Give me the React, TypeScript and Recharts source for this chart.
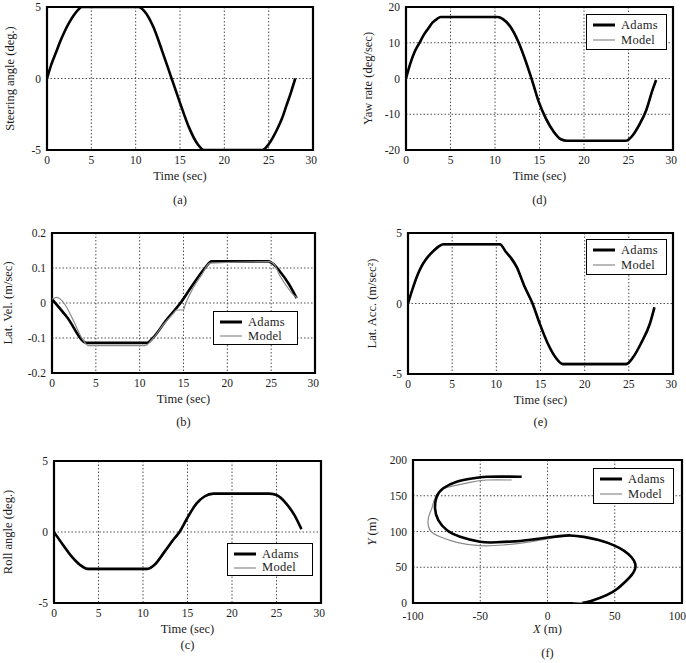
import React from 'react'
import { LineChart, Line, XAxis, YAxis, CartesianGrid, ReferenceArea, Label } from 'recharts'

const timeTicks = [0, 5, 10, 15, 20, 25, 30]

// (a) steering input
const steerTime = [0, 0.5, 1, 1.5, 2, 2.5, 3, 3.5, 3.9, 10.3, 11, 12, 13, 14, 15, 16, 17, 17.7, 24.3, 25, 25.5, 26, 26.5, 27, 27.5, 28]
const steerAngle = [0, 1.0, 1.8, 2.6, 3.3, 3.9, 4.4, 4.8, 5, 5, 4.7, 3.6, 1.9, 0.1, -1.7, -3.4, -4.6, -5, -5, -4.6, -4.1, -3.5, -2.8, -1.9, -1.0, 0]

// (d) yaw rate
const yawTime = [0, 0.5, 1, 1.5, 2, 2.5, 3, 3.5, 3.9, 10.3, 10.9, 11.7, 12.6, 13.4, 14.15, 14.9, 15.7, 16.6, 17.4, 18.1, 24.7, 25.5, 26.2, 27, 27.7, 28.1]
const yawAdams = [0, 4.3, 7.6, 9.9, 12.2, 14.0, 15.7, 16.7, 17.2, 17.2, 16.6, 14.6, 10.4, 5.2, -0.4, -6.4, -11.1, -14.9, -17.0, -17.4, -17.4, -15.8, -13.0, -8.8, -3.2, -0.4]
const yawModel = [0, 4.6, 7.9, 10.2, 12.4, 14.2, 15.8, 16.8, 17.3, 17.3, 16.4, 14.2, 10.0, 4.8, -0.8, -6.8, -11.5, -15.2, -17.2, -17.6, -17.6, -16.1, -13.4, -9.2, -3.6, -0.8]

// (b) lateral velocity
const velAdamsTime = [0, 1.7, 3.96, 10.8, 11.5, 13, 14.8, 16, 17.45, 18.2, 24.7, 25.2, 26, 27, 27.9]
const velAdams = [0.011, -0.04, -0.114, -0.114, -0.1, -0.05, 0.005, 0.05, 0.1, 0.119, 0.119, 0.112, 0.09, 0.055, 0.014]
const velModelTime = [0, 0.55, 1.5, 2.4, 3.4, 4.15, 10.6, 11.4, 12.7, 13.8, 14.2, 15.0, 15.2, 16.1, 17.1, 18.0, 24.8, 25.4, 26, 27, 27.5, 28]
const velModel = [0.011, 0.016, -0.005, -0.048, -0.1, -0.122, -0.122, -0.105, -0.062, -0.031, -0.02, -0.02, -0.005, 0.043, 0.081, 0.114, 0.118, 0.108, 0.078, 0.04, 0.024, 0.014]

// (e) lateral acceleration
const accTime = [0, 0.5, 1, 1.5, 2, 3, 3.5, 4, 10.4, 11.1, 11.7, 12.3, 13.2, 14.1, 14.9, 15.8, 16.8, 17.5, 24.7, 25.5, 26.4, 27.4, 27.9]
const accAdams = [0, 1.0, 1.9, 2.6, 3.1, 3.8, 4.05, 4.2, 4.2, 3.65, 3.2, 2.6, 1.2, 0, -1.4, -2.8, -3.9, -4.3, -4.3, -3.8, -2.8, -1.4, -0.28]
const accModel = [0, 1.05, 1.95, 2.65, 3.15, 3.85, 4.1, 4.15, 4.15, 3.6, 3.1, 2.5, 1.1, -0.1, -1.5, -2.9, -3.95, -4.25, -4.25, -3.75, -2.75, -1.35, -0.25]

// (c) roll angle
const rollTime = [0, 1, 1.95, 2.9, 3.8, 10.4, 11.3, 12.4, 13.4, 14.1, 14.9, 16, 16.9, 17.9, 24.2, 25, 26.1, 27, 27.8]
const rollAdams = [0, -0.9, -1.7, -2.3, -2.6, -2.6, -2.3, -1.4, -0.55, 0, 0.9, 2.0, 2.5, 2.7, 2.7, 2.6, 2.0, 1.2, 0.2]
const rollModel = [0, -0.95, -1.75, -2.35, -2.65, -2.65, -2.35, -1.5, -0.6, -0.05, 0.85, 1.95, 2.5, 2.65, 2.65, 2.55, 1.95, 1.15, 0.2]

// (f) vehicle path
const pathAdamsX = [26, 32, 44, 52, 58, 62.5, 65, 65.2, 62.5, 57, 49, 38, 27, 17, 9, 0, -10, -20.4, -37.8, -50.2, -65, -74.9, -81.2, -83.6, -82.4, -77.5, -67.5, -55.2, -45.2, -19.2]
const pathAdamsY = [0, 2.5, 11, 20, 30, 39, 47, 55, 64, 73, 81, 88, 92.5, 94.5, 93.5, 91.5, 89, 86.7, 84.9, 85.7, 92.7, 102, 116, 132, 148.7, 160.4, 169.7, 174.4, 176.6, 176.6]
const pathModelX = [19, 28, 42, 51, 57.5, 62, 64.6, 64.8, 62.2, 56.7, 48.7, 37.7, 26.7, 16.5, 8, 1.9, -15.5, -32.9, -50.2, -67.5, -79.9, -87.4, -88.6, -86.1, -83.6, -78.7, -72.5, -57.6, -45.2, -26.6]
const pathModelY = [0, 1.5, 10.5, 19.5, 29.5, 38.5, 46.5, 55, 64, 73, 81, 88, 92.3, 94, 92.5, 90.5, 84.9, 81.1, 80.2, 84.9, 92.7, 102, 118.5, 132, 146.4, 158, 162.7, 168.8, 172, 172]

type Pt = { x: number; y: number }
const zip = (xs: number[], ys: number[]): Pt[] => xs.map((x, i) => ({ x, y: ys[i] }))

const FONT = '"Liberation Serif", "Times New Roman", serif'
const INK = '#1c1c1c'

type Series = { key: string; data: Pt[]; color: string; width: number }

const adams = (data: Pt[]): Series => ({ key: 'Adams', data, color: '#000', width: 2.6 })
const model = (data: Pt[]): Series => ({ key: 'Model', data, color: '#8a8a8a', width: 1.2 })

interface PanelProps {
  left: number
  top: number
  plotX: number
  plotY: number
  plotW: number
  plotH: number
  xDomain: [number, number]
  xTicks: number[]
  yDomain: [number, number]
  yTicks: number[]
  xTitle: React.ReactNode
  yTitle: React.ReactNode
  yTitleX: number
  series: Series[]
  curve: 'monotone' | 'linear' | 'natural'
  legend?: { x: number; y: number; w: number; h: number }
  caption: string
  captionY: number
  xTickGap?: number
}

function LegendBox({ x, y, w, h }: { x: number; y: number; w: number; h: number }) {
  const rows = [
    { label: 'Adams', color: '#000', width: 3 },
    { label: 'Model', color: '#8a8a8a', width: 1.2 },
  ]
  return (
    <div
      style={{
        position: 'absolute',
        left: x,
        top: y,
        width: w,
        height: h,
        border: '1px solid #000',
        background: '#fff',
        boxSizing: 'border-box',
        fontFamily: FONT,
        fontSize: 12.5,
        color: INK,
      }}
    >
      {rows.map((r, i) => (
        <div key={r.label} style={{ position: 'absolute', left: 5, top: 3 + i * (h / 2 - 3), height: 14, display: 'flex', alignItems: 'center' }}>
          <svg width={24} height={14}>
            <line x1={1} x2={23} y1={7} y2={7} stroke={r.color} strokeWidth={r.width} />
          </svg>
          <span style={{ marginLeft: 5, letterSpacing: 0.3 }}>{r.label}</span>
        </div>
      ))}
    </div>
  )
}

function Panel(p: PanelProps) {
  const marginTop = p.plotY - p.top
  const axisW = p.plotX - p.left
  const axisH = 36
  const width = axisW + p.plotW + 4
  const height = marginTop + p.plotH + axisH
  const cx = axisW + p.plotW / 2
  const cy = marginTop + p.plotH / 2
  const ytx = p.yTitleX - p.left
  const tickStyle = { fill: INK, fontSize: 11.5, fontFamily: FONT }
  return (
    <>
      <div style={{ position: 'absolute', left: p.left, top: p.top }}>
        <LineChart width={width} height={height} margin={{ top: marginTop, right: 4, left: 0, bottom: 0 }}>
          <CartesianGrid stroke="#3a3a3a" strokeDasharray="1.5 2" strokeWidth={0.9} />
          <XAxis
            type="number"
            dataKey="x"
            domain={p.xDomain}
            ticks={p.xTicks}
            allowDataOverflow
            height={axisH}
            axisLine={false}
            tickLine={false}
            tickSize={0}
            tickMargin={p.xTickGap ?? 6}
            tick={tickStyle}
          >
            <Label
              content={() => (
                <text x={cx} y={marginTop + p.plotH + 30} textAnchor="middle" fontFamily={FONT} fontSize={12.5} fill={INK}>
                  {p.xTitle}
                </text>
              )}
            />
          </XAxis>
          <YAxis
            type="number"
            dataKey="y"
            domain={p.yDomain}
            ticks={p.yTicks}
            allowDataOverflow
            width={axisW}
            axisLine={false}
            tickLine={false}
            tickSize={0}
            tickMargin={6}
            tick={tickStyle}
          >
            <Label
              content={() => (
                <text
                  x={ytx}
                  y={cy}
                  transform={`rotate(-90 ${ytx} ${cy})`}
                  textAnchor="middle"
                  dominantBaseline="central"
                  fontFamily={FONT}
                  fontSize={12.5}
                  fill={INK}
                >
                  {p.yTitle}
                </text>
              )}
            />
          </YAxis>
          {p.series.map((s) => (
            <Line
              key={s.key}
              data={s.data}
              dataKey="y"
              type={p.curve}
              stroke={s.color}
              strokeWidth={s.width}
              dot={false}
              isAnimationActive={false}
            />
          ))}
          <ReferenceArea
            x1={p.xDomain[0]}
            x2={p.xDomain[1]}
            y1={p.yDomain[0]}
            y2={p.yDomain[1]}
            fill="none"
            stroke="#000"
            strokeWidth={2.2}
            ifOverflow="visible"
          />
        </LineChart>
      </div>
      {p.legend && <LegendBox {...p.legend} />}
      <div
        style={{
          position: 'absolute',
          left: p.plotX + p.plotW / 2,
          top: p.captionY,
          transform: 'translate(-50%, -50%)',
          fontFamily: FONT,
          fontSize: 12.5,
          color: INK,
        }}
      >
        {p.caption}
      </div>
    </>
  )
}

export default function App() {
  return (
    <div style={{ position: 'absolute', left: 0, top: 0, width: 686, height: 663, background: '#fff' }}>
      <Panel
        left={0} top={0} plotX={47} plotY={7} plotW={266} plotH={143}
        xDomain={[0, 30]} xTicks={timeTicks} yDomain={[-5, 5]} yTicks={[-5, 0, 5]}
        xTitle="Time (sec)" yTitle="Steering angle (deg.)" yTitleX={10}
        series={[adams(zip(steerTime, steerAngle))]} curve="monotone"
        caption="(a)" captionY={200}
      />
      <Panel
        left={340} top={0} plotX={406} plotY={7} plotW={267} plotH={143}
        xDomain={[0, 30]} xTicks={timeTicks} yDomain={[-20, 20]} yTicks={[-20, -10, 0, 10, 20]}
        xTitle="Time (sec)" yTitle="Yaw rate (deg/sec)" yTitleX={368}
        series={[model(zip(yawTime, yawModel)), adams(zip(yawTime, yawAdams))]} curve="monotone"
        legend={{ x: 586, y: 14, w: 81, h: 36 }}
        caption="(d)" captionY={200}
      />
      <Panel
        left={0} top={226} plotX={52} plotY={233} plotW={263} plotH={140}
        xDomain={[0, 30]} xTicks={timeTicks} yDomain={[-0.2, 0.2]} yTicks={[-0.2, -0.1, 0, 0.1, 0.2]}
        xTitle="Time (sec)" yTitle="Lat. Vel. (m/sec)" yTitleX={8}
        series={[adams(zip(velAdamsTime, velAdams)), model(zip(velModelTime, velModel))]} curve="monotone"
        legend={{ x: 213, y: 311, w: 85, h: 34 }}
        caption="(b)" captionY={422}
      />
      <Panel
        left={340} top={226} plotX={408} plotY={233} plotW={265} plotH={141}
        xDomain={[0, 30]} xTicks={timeTicks} yDomain={[-5, 5]} yTicks={[-5, 0, 5]}
        xTitle="Time (sec)" yTitle="Lat. Acc. (m/sec²)" yTitleX={372}
        series={[model(zip(accTime, accModel)), adams(zip(accTime, accAdams))]} curve="monotone"
        legend={{ x: 586, y: 239, w: 81, h: 36 }}
        caption="(e)" captionY={422}
      />
      <Panel
        left={0} top={454} plotX={54} plotY={461} plotW={267} plotH={142}
        xDomain={[0, 30]} xTicks={timeTicks} yDomain={[-5, 5]} yTicks={[-5, 0, 5]}
        xTitle="Time (sec)" yTitle="Roll angle (deg.)" yTitleX={8}
        series={[model(zip(rollTime, rollModel)), adams(zip(rollTime, rollAdams))]} curve="monotone"
        legend={{ x: 227, y: 543, w: 86, h: 33 }}
        caption="(c)" captionY={645}
      />
      <Panel
        left={340} top={453} plotX={413} plotY={460} plotW={269} plotH={143}
        xDomain={[-100, 100]} xTicks={[-100, -50, 0, 50, 100]} yDomain={[0, 200]} yTicks={[0, 50, 100, 150, 200]}
        xTitle={<><tspan fontStyle="italic">X</tspan> (m)</>}
        yTitle={<><tspan fontStyle="italic">Y</tspan> (m)</>}
        yTitleX={372}
        series={[model(zip(pathModelX, pathModelY)), adams(zip(pathAdamsX, pathAdamsY))]} curve="natural"
        legend={{ x: 593, y: 468, w: 81, h: 36 }}
        caption="(f)" captionY={653}
        xTickGap={9}
      />
    </div>
  )
}
